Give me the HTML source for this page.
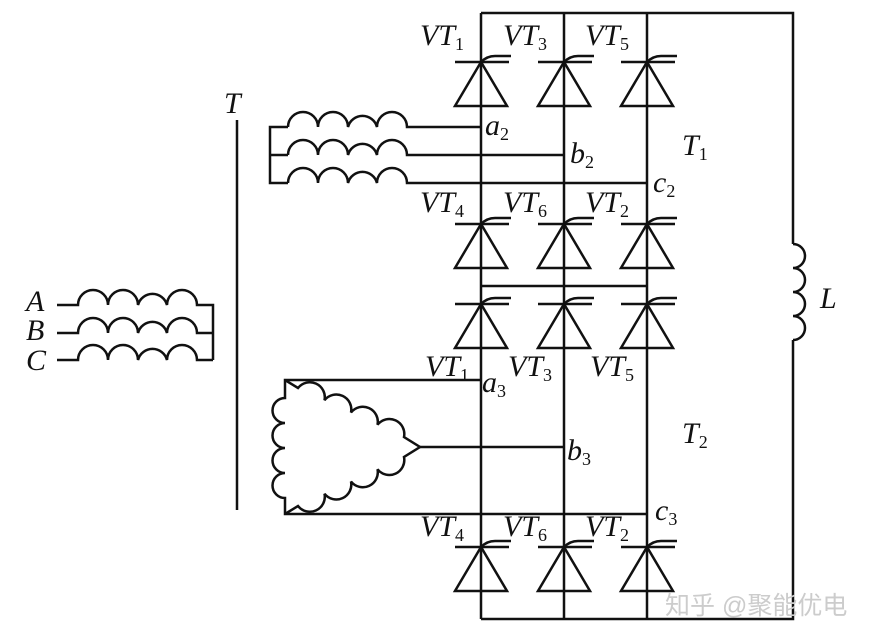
<!DOCTYPE html>
<html><head><meta charset="utf-8"><style>
html,body{margin:0;padding:0;background:#fff;}
svg{display:block;}
text{font-family:"Liberation Serif",serif;font-style:italic;fill:#111;}
.s{font-size:18px;font-style:normal;}
</style></head><body>
<svg width="874" height="638" viewBox="0 0 874 638" xmlns="http://www.w3.org/2000/svg">
<defs>
<g id="thy" fill="none" stroke="#111" stroke-width="2.5">
<line x1="-26" y1="0" x2="28" y2="0"/>
<polygon points="0,0 -26,44 26,44"/>
<path d="M0,0 Q6,-6 14,-6 L30,-6"/>
</g>
</defs>
<g fill="none" stroke="#111" stroke-width="2.5">
<polyline points="481,13 793,13 793,244"/>
<polyline points="793,340 793,619 481,619"/>
<line x1="481" y1="13" x2="481" y2="619"/>
<line x1="564" y1="13" x2="564" y2="619"/>
<line x1="647" y1="13" x2="647" y2="619"/>
<line x1="481" y1="286" x2="647" y2="286"/>
<path d="M793,244 A12,12 0 0 1 793,268 A12,12 0 0 1 793,292 A12,12 0 0 1 793,316 A12,12 0 0 1 793,340"/>
<line x1="237" y1="120" x2="237" y2="510"/>
<polyline points="288,127 270,127 270,183 288,183"/>
<line x1="270" y1="155" x2="288" y2="155"/>
<path d="M288,127 A15,15 0 0 1 318,127 A15,15 0 0 1 348,127 A15,15 0 0 1 377,127 A15,15 0 0 1 407,127 L481,127"/>
<path d="M288,155 A15,15 0 0 1 318,155 A15,15 0 0 1 348,155 A15,15 0 0 1 377,155 A15,15 0 0 1 407,155 L564,155"/>
<path d="M288,183 A15,15 0 0 1 318,183 A15,15 0 0 1 348,183 A15,15 0 0 1 377,183 A15,15 0 0 1 407,183 L647,183"/>
<path d="M57,305 L78,305 A15,15 0 0 1 108,305 A15,15 0 0 1 138,305 A15,15 0 0 1 167,305 A15,15 0 0 1 197,305 L213,305 L213,360"/>
<path d="M57,333 L78,333 A15,15 0 0 1 108,333 A15,15 0 0 1 138,333 A15,15 0 0 1 167,333 A15,15 0 0 1 197,333 L213,333"/>
<path d="M57,360 L78,360 A15,15 0 0 1 108,360 A15,15 0 0 1 138,360 A15,15 0 0 1 167,360 A15,15 0 0 1 197,360 L213,360"/>
<path d="M481,380 L285,380 L285,398 A12.5,12.5 0 0 0 285,423 A12.5,12.5 0 0 0 285,448 A12.5,12.5 0 0 0 285,473 A12.5,12.5 0 0 0 285,498 L285,514 L647,514"/>
<path d="M285,380 L298,388 A15,15 0 0 1 324.5,400.25 A15,15 0 0 1 351,412.5 A15,15 0 0 1 377.5,424.75 A15,15 0 0 1 404,437 L420,447 L404,457 A15,15 0 0 1 377.5,469.25 A15,15 0 0 1 351,481.5 A15,15 0 0 1 324.5,493.75 A15,15 0 0 1 298,506 L285,514"/>
<line x1="420" y1="447" x2="564" y2="447"/>
</g>
<use href="#thy" x="481" y="62"/><use href="#thy" x="564" y="62"/><use href="#thy" x="647" y="62"/>
<use href="#thy" x="481" y="224"/><use href="#thy" x="564" y="224"/><use href="#thy" x="647" y="224"/>
<use href="#thy" x="481" y="304"/><use href="#thy" x="564" y="304"/><use href="#thy" x="647" y="304"/>
<use href="#thy" x="481" y="547"/><use href="#thy" x="564" y="547"/><use href="#thy" x="647" y="547"/>
<g font-size="30">
<text x="420" y="45">VT<tspan class="s" dy="5">1</tspan></text>
<text x="503" y="45">VT<tspan class="s" dy="5">3</tspan></text>
<text x="585" y="45">VT<tspan class="s" dy="5">5</tspan></text>
<text x="420" y="212">VT<tspan class="s" dy="5">4</tspan></text>
<text x="503" y="212">VT<tspan class="s" dy="5">6</tspan></text>
<text x="585" y="212">VT<tspan class="s" dy="5">2</tspan></text>
<text x="425" y="376">VT<tspan class="s" dy="5">1</tspan></text>
<text x="508" y="376">VT<tspan class="s" dy="5">3</tspan></text>
<text x="590" y="376">VT<tspan class="s" dy="5">5</tspan></text>
<text x="420" y="536">VT<tspan class="s" dy="5">4</tspan></text>
<text x="503" y="536">VT<tspan class="s" dy="5">6</tspan></text>
<text x="585" y="536">VT<tspan class="s" dy="5">2</tspan></text>
<text x="485" y="135">a<tspan class="s" dy="5">2</tspan></text>
<text x="570" y="163">b<tspan class="s" dy="5">2</tspan></text>
<text x="653" y="192">c<tspan class="s" dy="5">2</tspan></text>
<text x="682" y="155">T<tspan class="s" dy="5">1</tspan></text>
<text x="482" y="392">a<tspan class="s" dy="5">3</tspan></text>
<text x="567" y="460">b<tspan class="s" dy="5">3</tspan></text>
<text x="655" y="520">c<tspan class="s" dy="5">3</tspan></text>
<text x="682" y="443">T<tspan class="s" dy="5">2</tspan></text>
<text x="820" y="308">L</text>
<text x="224" y="113">T</text>
<text x="26" y="311">A</text>
<text x="26" y="340">B</text>
<text x="26" y="370">C</text>
</g>
<text x="665" y="614" style="font-family:'Liberation Sans','Noto Sans CJK SC',sans-serif;font-style:normal;font-size:25px;fill:#ccc;">知乎 @聚能优电</text>
</svg>
</body></html>
